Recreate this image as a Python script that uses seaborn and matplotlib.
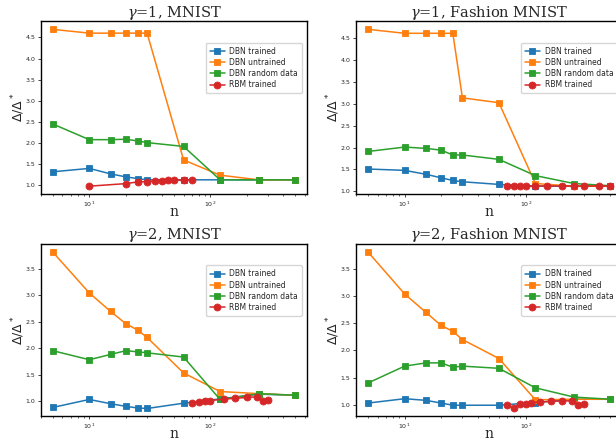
import numpy as np
import pandas as pd
import matplotlib
matplotlib.use("Agg")
import matplotlib.pyplot as plt
import seaborn as sns

sns.set_style("ticks")

# ---------------- data ----------------
n_dbn = [5, 10, 15, 20, 25, 30, 60, 120, 250, 500]

# gamma=1, MNIST
g1m_trained = [1.32, 1.40, 1.27, 1.20, 1.16, 1.13, 1.13, 1.13, 1.13, 1.13]
g1m_untrained = [4.69, 4.60, 4.60, 4.60, 4.60, 4.60, 1.60, 1.24, 1.13, 1.13]
g1m_random = [2.45, 2.08, 2.08, 2.09, 2.05, 2.01, 1.92, 1.13, 1.13, 1.13]
g1m_rbm_n = [10, 20, 25, 30, 35, 40, 45, 50, 60, 70]
g1m_rbm = [0.98, 1.04, 1.08, 1.09, 1.10, 1.11, 1.12, 1.12, 1.13, 1.13]

# gamma=1, Fashion MNIST
g1f_trained = [1.51, 1.48, 1.39, 1.31, 1.25, 1.22, 1.16, 1.12, 1.12, 1.12]
g1f_untrained = [4.69, 4.60, 4.60, 4.60, 4.60, 3.13, 3.02, 1.18, 1.12, 1.12]
g1f_random = [1.91, 2.01, 1.98, 1.94, 1.83, 1.83, 1.73, 1.36, 1.18, 1.13]
g1f_rbm_n = [70, 80, 90, 100, 120, 150, 200, 250, 300, 400, 500]
g1f_rbm = [1.13, 1.13, 1.13, 1.13, 1.13, 1.13, 1.13, 1.13, 1.13, 1.13, 1.13]

# gamma=2, MNIST
g2m_trained = [0.88, 1.03, 0.95, 0.90, 0.87, 0.86, 0.96, 1.04, 1.13, 1.11]
g2m_untrained = [3.81, 3.04, 2.69, 2.46, 2.34, 2.20, 1.53, 1.18, 1.14, 1.11]
g2m_random = [1.95, 1.78, 1.88, 1.95, 1.93, 1.91, 1.83, 1.03, 1.14, 1.11]
g2m_rbm_n = [70, 80, 90, 100, 130, 160, 200, 240, 270, 300]
g2m_rbm = [0.97, 0.99, 1.00, 1.01, 1.04, 1.05, 1.07, 1.08, 1.00, 1.02]

# gamma=2, Fashion MNIST
g2f_trained = [1.03, 1.11, 1.08, 1.03, 0.99, 0.99, 0.99, 1.04, 1.10, 1.10]
g2f_untrained = [3.81, 3.04, 2.70, 2.46, 2.35, 2.20, 1.85, 1.09, 1.10, 1.10]
g2f_random = [1.40, 1.71, 1.77, 1.77, 1.69, 1.71, 1.67, 1.31, 1.14, 1.10]
g2f_rbm_n = [70, 80, 90, 100, 110, 130, 160, 200, 240, 270, 300]
g2f_rbm = [0.99, 0.93, 1.02, 1.02, 1.04, 1.05, 1.06, 1.07, 1.07, 1.00, 1.02]

titles = [r"$\gamma$=1, MNIST", r"$\gamma$=1, Fashion MNIST",
          r"$\gamma$=2, MNIST", r"$\gamma$=2, Fashion MNIST"]
labels = ["DBN trained", "DBN untrained", "DBN random data", "RBM trained"]
colors = ["#1f77b4", "#ff7f0e", "#2ca02c", "#d62728"]

panels = [
    (g1m_trained, g1m_untrained, g1m_random, g1m_rbm_n, g1m_rbm),
    (g1f_trained, g1f_untrained, g1f_random, g1f_rbm_n, g1f_rbm),
    (g2m_trained, g2m_untrained, g2m_random, g2m_rbm_n, g2m_rbm),
    (g2f_trained, g2f_untrained, g2f_random, g2f_rbm_n, g2f_rbm),
]

W, H = 616, 440
fig = plt.figure(figsize=(W / 100, H / 100), dpi=100)

# axes rectangles in pixels: left, top, width, height
rects = [(40.7, 21.5, 266.6, 172.5), (356.0, 21.5, 266.6, 172.5),
         (40.7, 244.3, 266.6, 172.0), (356.0, 244.3, 266.6, 172.0)]

for (lx, ty, w, h), title, data in zip(rects, titles, panels):
    ax = fig.add_axes([lx / W, 1 - (ty + h) / H, w / W, h / H])
    tr, un, rd, rbm_n, rbm = data
    for yv, lab, col in zip([tr, un, rd], labels[:3], colors[:3]):
        sns.lineplot(x=n_dbn, y=yv, ax=ax, color=col, marker="s", markersize=5,
                     linewidth=1.1, label=lab, markeredgecolor=col,
                     markeredgewidth=0.6)
    sns.lineplot(x=rbm_n, y=rbm, ax=ax, color=colors[3], marker="o", markersize=5,
                 linewidth=1.1, label=labels[3], markeredgecolor=colors[3],
                 markeredgewidth=0.6)
    ax.set_xscale("log")
    for s in ax.spines.values():
        s.set_color("black")
        s.set_linewidth(1.0)
    ax.tick_params(which="major", length=2.0, width=0.6, labelsize=4.5, pad=2)
    ax.tick_params(which="minor", length=1.2, width=0.5)
    ax.set_title(title, family="DejaVu Serif", math_fontfamily="dejavuserif",
                 fontsize=10.5, pad=3)
    ax.set_xlabel("n", family="DejaVu Serif", fontsize=10, labelpad=-3)
    ax.set_ylabel(r"$\Delta/\Delta^*$", fontsize=9, labelpad=-1)
    ax.legend(loc="upper right", bbox_to_anchor=(0.98, 0.877), borderaxespad=0,
              fontsize=5.5, frameon=True, handlelength=2.0, borderpad=0.5,
              labelspacing=0.3, handletextpad=0.6)

fig.savefig("out.png", dpi=100)
